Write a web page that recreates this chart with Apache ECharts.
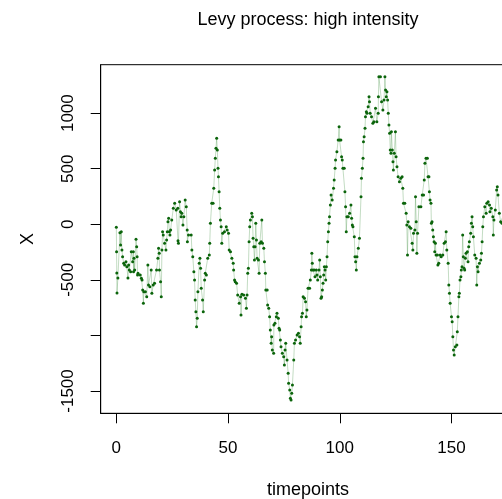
<!DOCTYPE html>
<html><head><meta charset="utf-8">
<script src="https://cdn.jsdelivr.net/npm/echarts@6/dist/echarts.min.js"></script>
<style>html,body{margin:0;padding:0;background:#fff;overflow:hidden}#c{width:524px;height:499px}</style>
</head><body><div id="c"></div>
<script>
const timepoints = [
0.0,0.1,0.2,0.3,0.7,1.6,1.9,2.2,2.5,2.8,3.3,3.7,4.3,4.7,5.2,5.5,5.8,6.4,6.7,7.3,7.6,7.7,7.9,8.2,8.8,9.1,9.3,9.5,9.7,10.7,
11.2,11.5,11.8,12.1,12.3,13.0,13.6,14.1,14.4,15.0,15.6,15.9,16.5,17.1,18.0,18.6,18.9,19.2,19.3,19.8,20.1,20.4,20.7,21.0,21.6,22.2,22.5,22.8,23.1,23.4,
23.7,24.0,24.3,24.8,25.5,26.1,26.8,27.5,27.6,27.8,28.3,28.7,29.0,29.3,29.8,30.2,30.8,31.3,31.7,31.8,32.3,33.5,33.8,34.2,34.7,35.0,35.3,35.6,35.9,36.2,
36.5,37.1,37.4,37.7,38.0,38.6,38.9,39.5,39.8,40.3,40.9,41.6,41.8,42.1,42.7,43.3,43.6,44.0,44.3,44.6,44.9,45.2,45.5,45.7,46.0,46.3,46.6,46.9,47.2,47.6,
48.4,49.2,49.6,50.2,50.5,51.1,51.7,52.3,52.5,52.9,53.2,53.8,54.3,55.0,55.6,55.8,56.2,57.0,57.8,58.2,58.5,58.8,59.1,59.4,59.7,60.0,60.6,60.9,61.2,61.5,
61.8,62.1,62.4,62.7,63.0,63.6,63.9,64.2,64.8,65.1,65.4,66.0,66.3,66.7,66.9,67.5,67.7,68.2,68.6,68.9,69.3,69.5,69.8,70.4,70.5,71.0,71.6,71.9,72.5,72.8,
73.1,73.4,73.7,74.3,74.9,75.2,75.5,75.8,76.4,76.9,77.1,77.6,77.9,78.2,78.5,78.8,79.4,79.7,80.2,80.9,81.5,82.0,82.3,82.7,82.9,83.3,83.6,84.2,84.7,85.0,
85.3,85.8,86.5,86.8,87.3,87.5,87.7,88.0,88.6,88.9,89.5,89.8,90.1,90.7,91.0,91.3,91.6,91.9,92.2,92.5,92.8,93.1,93.4,93.7,94.0,94.3,94.6,94.9,95.2,95.4,
95.8,96.1,96.6,97.2,97.5,97.9,98.1,98.7,99.3,99.7,99.9,100.5,100.8,101.1,101.4,102.0,102.3,102.6,102.9,103.2,103.8,104.4,105.0,105.3,105.6,105.9,106.5,106.8,107.1,107.4,
107.7,108.3,108.8,109.5,109.7,110.1,110.4,110.6,110.9,111.3,111.5,111.9,112.2,112.7,113.1,113.3,113.6,114.2,114.8,115.3,116.0,116.6,117.2,117.3,117.5,118.2,118.7,119.3,119.8,120.2,
120.5,120.8,121.1,121.4,121.7,122.0,122.3,122.6,122.9,123.1,123.5,123.8,124.0,124.4,124.9,125.2,125.6,126.1,126.7,127.3,127.9,128.2,128.5,129.1,129.7,130.0,130.3,130.6,131.2,131.8,
132.4,132.7,133.0,133.6,133.9,134.2,134.5,134.8,135.4,136.3,136.9,137.5,137.8,138.1,138.6,139.2,139.5,139.9,140.1,140.4,140.8,141.0,141.3,141.6,141.9,142.2,142.5,142.8,143.1,143.7,
143.9,144.3,144.9,145.4,146.1,146.7,147.3,147.6,147.9,148.5,148.8,149.1,149.4,150.0,150.3,150.6,150.9,151.2,151.7,152.4,152.6,152.9,153.3,153.5,153.8,154.2,154.4,154.7,155.0,155.3,
155.6,155.9,156.2,156.5,157.1,157.4,157.7,158.0,158.6,158.9,159.2,159.5,159.8,160.4,161.0,161.3,161.6,161.9,162.5,163.1,163.4,163.7,164.0,164.3,164.9,165.5,165.8,166.4,167.0,167.2,
167.8,168.5,168.7,169.0,169.6,170.2,170.5,170.8,171.4,172.0,172.6,173.3,174.0,174.6,175.0
];
const levyX = [
-27,-247,-438,-618,-483,-76,-186,-67,-231,-292,-351,-366,-337,-382,-483,-366,-411,-427,-247,-337,-247,-427,-306,-411,-135,-202,-292,-456,-441,-456,
-486,-501,-591,-711,-607,-607,-652,-366,-546,-562,-411,-621,-546,-531,-411,-306,-216,-261,-411,-517,-652,-231,-67,-96,-171,-231,-141,-67,23,54,
-67,-96,-51,39,144,189,129,144,-148,-171,203,113,68,99,-6,68,219,158,-51,-157,-96,-96,-231,-292,-427,-501,-681,-787,-922,-846,
-607,-351,-306,-396,-576,-681,-787,-501,-441,-456,-306,-276,-171,9,189,189,324,489,594,684,774,669,504,428,293,144,39,-22,-171,-81,
-67,-22,-51,-81,-231,-247,-306,-351,-411,-501,-517,-531,-636,-711,-652,-816,-630,-636,-666,-756,-636,-441,-396,-157,-22,39,99,68,-126,-202,
-321,-202,9,-141,-306,-321,-441,-171,-157,39,-171,-216,-337,-441,-591,-591,-726,-756,-832,-951,-1071,-1012,-1131,-1161,-906,-891,-832,-801,-846,-936,
-951,-1041,-1102,-1161,-1192,-1266,-1131,-1071,-1221,-1341,-1431,-1491,-1566,-1581,-1521,-1446,-1221,-1071,-1041,-996,-981,-1012,-1071,-922,-832,-801,-652,-666,-697,-832,
-771,-576,-576,-501,-411,-261,-351,-411,-411,-472,-411,-456,-501,-411,-321,-472,-666,-652,-591,-531,-456,-382,-411,-501,-382,-292,-157,-67,9,68,
174,264,219,324,399,504,579,653,759,878,759,759,608,579,504,504,293,158,-67,68,68,99,174,54,-6,-22,-112,-292,-337,-411,
-292,-216,-126,248,414,504,594,743,788,864,968,1013,999,1058,1148,1103,999,968,909,923,1044,923,999,1148,1328,1328,1103,1029,1119,1328,
1209,1148,1193,1119,999,894,819,669,639,833,669,563,489,639,833,608,518,428,383,414,428,324,189,189,99,-6,-276,23,-22,-36,
-171,-231,-81,-51,248,23,-261,-81,158,158,264,264,399,549,594,594,428,428,293,219,189,9,23,-51,-112,-157,-247,-171,-276,-276,
-366,-351,-276,-292,-276,-171,-157,-67,-231,-351,-546,-621,-711,-832,-877,-1012,-1131,-1177,-1102,-1086,-967,-832,-652,-621,-501,-472,-411,-382,-96,-292,
-396,-411,-306,-261,-247,-337,-202,-157,-81,9,68,-22,-112,-276,-306,-546,-382,-427,-351,-321,-261,-157,-22,68,158,99,189,203,174,113,
144,68,-96,39,129,309,338,264,99,23,9,84,150,120,170
];
const xTicks = [0, 50, 100, 150];
const yTicks = [-1500, -1000, -500, 0, 500, 1000];
const yTickLabels = [-1500, -500, 0, 500, 1000];

const seriesData = timepoints.map((t, i) => [t, levyX[i]]);
const FONT = 'Liberation Sans, Arial, Helvetica, sans-serif';
const chart = echarts.init(document.getElementById('c'), null, {renderer: 'canvas'});
chart.setOption({
  animation: false,
  backgroundColor: '#fff',
  grid: {left: 100.7, top: 64.7, right: 1, bottom: 85.7, show: true, borderColor: '#000', borderWidth: 1, backgroundColor: 'transparent'},
  xAxis: {
    type: 'value', min: -7, max: 182,
    axisLine: {show: true, onZero: false, lineStyle: {color: '#000', width: 1}},
    axisTick: {show: true, customValues: xTicks, length: 10, lineStyle: {color: '#000', width: 1}},
    axisLabel: {show: true, customValues: xTicks, margin: 27, color: '#000', fontSize: 17, fontFamily: FONT, formatter: v => String(v)},
    splitLine: {show: false}
  },
  yAxis: {
    type: 'value', min: -1701, max: 1436,
    axisLine: {show: true, onZero: false, lineStyle: {color: '#000', width: 1}},
    axisTick: {show: true, customValues: yTicks, length: 10, lineStyle: {color: '#000', width: 1}},
    axisLabel: {show: true, customValues: yTickLabels, rotate: 90, margin: 24, color: '#000', fontSize: 17, fontFamily: FONT, formatter: v => String(v)},
    splitLine: {show: false}
  },
  graphic: [
    {type: 'text', x: 308, y: 20, style: {text: 'Levy process: high intensity', fill: '#000', font: '18px ' + FONT, textAlign: 'center', textVerticalAlign: 'middle'}},
    {type: 'text', x: 308, y: 490, style: {text: 'timepoints', fill: '#000', font: '18px ' + FONT, textAlign: 'center', textVerticalAlign: 'middle'}},
    {type: 'text', x: 28, y: 239, rotation: Math.PI / 2, style: {text: 'X', fill: '#000', font: '18px ' + FONT, textAlign: 'center', textVerticalAlign: 'middle'}}
  ],
  series: [{
    type: 'line',
    data: seriesData,
    showSymbol: true,
    showAllSymbol: true,
    symbol: 'circle',
    symbolSize: 3,
    itemStyle: {color: '#0b640b'},
    lineStyle: {color: 'rgba(40,130,40,0.28)', width: 1},
    emphasis: {disabled: true},
    silent: true
  }]
});
</script>
</body></html>
